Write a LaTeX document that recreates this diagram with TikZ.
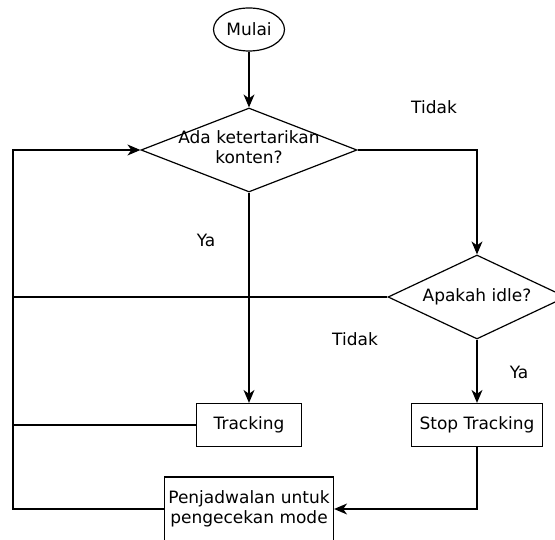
\documentclass[tikz,border=0pt]{standalone}
\usepackage{fontspec}
\setmainfont{DejaVu Sans}
\usetikzlibrary{arrows.meta,shapes.geometric}
\newcommand{\nowide}[1]{\makebox[0pt]{#1}}

\begin{document}
\begin{tikzpicture}[x=1pt,y=-1pt,
  every node/.style={font=\fontsize{17}{20}\selectfont},
  terminal/.style={ellipse,draw,line width=1.2pt,minimum width=71pt,minimum height=43pt,inner sep=0pt},
  decision/.style={diamond,draw,line width=1.2pt,inner sep=0pt},
  process/.style={rectangle,draw,line width=1.2pt,minimum height=43pt,align=center,inner sep=0pt},
  lbl/.style={inner sep=0pt},
  line/.style={draw,line width=1.2pt},
  >={Stealth[length=13pt,width=11pt,inset=4pt]}]
\useasboundingbox (0,0) rectangle (555,540);
% shapes
\node[terminal] (mulai) at (249,29.5) {Mulai};
\node[decision,minimum width=216pt,minimum height=84pt] (minat) at (249,150)
  {\nowide{\begin{tabular}{@{}c@{}}Ada ketertarikan\\konten?\end{tabular}}};
\node[decision,minimum width=178pt,minimum height=84pt] (idle) at (477,297) {\nowide{Apakah idle?}};
\node[process,minimum width=105pt] (track) at (249,425) {Tracking};
\node[process,minimum width=131pt] (stop) at (477,425) {Stop Tracking};
\node[process,minimum width=169pt,minimum height=64pt] (jadwal) at (249,509)
  {Penjadwalan untuk\\pengecekan mode};
\coordinate (kiri) at (13,509);
% labels
\node[lbl] (tidak1) at (434,107) {Tidak};
\node[lbl] (ya1) at (206,240) {Ya};
\node[lbl] (tidak2) at (355,339) {Tidak};
\node[lbl] (ya2) at (519,372) {Ya};
% connectors
\draw[line,->] (mulai) -- (minat);
\draw[line,->] (minat) -- (track);
\draw[line,->] (minat.east) -| (idle.north);
\draw[line,->] (idle) -- (stop);
\draw[line,->] (stop.south) |- (jadwal.east);
\draw[line,->] (jadwal.west) -- (kiri) |- (minat.west);
\draw[line] (idle.west) -- (kiri |- idle.west);
\draw[line] (track.west) -- (kiri |- track.west);
\end{tikzpicture}
\end{document}
